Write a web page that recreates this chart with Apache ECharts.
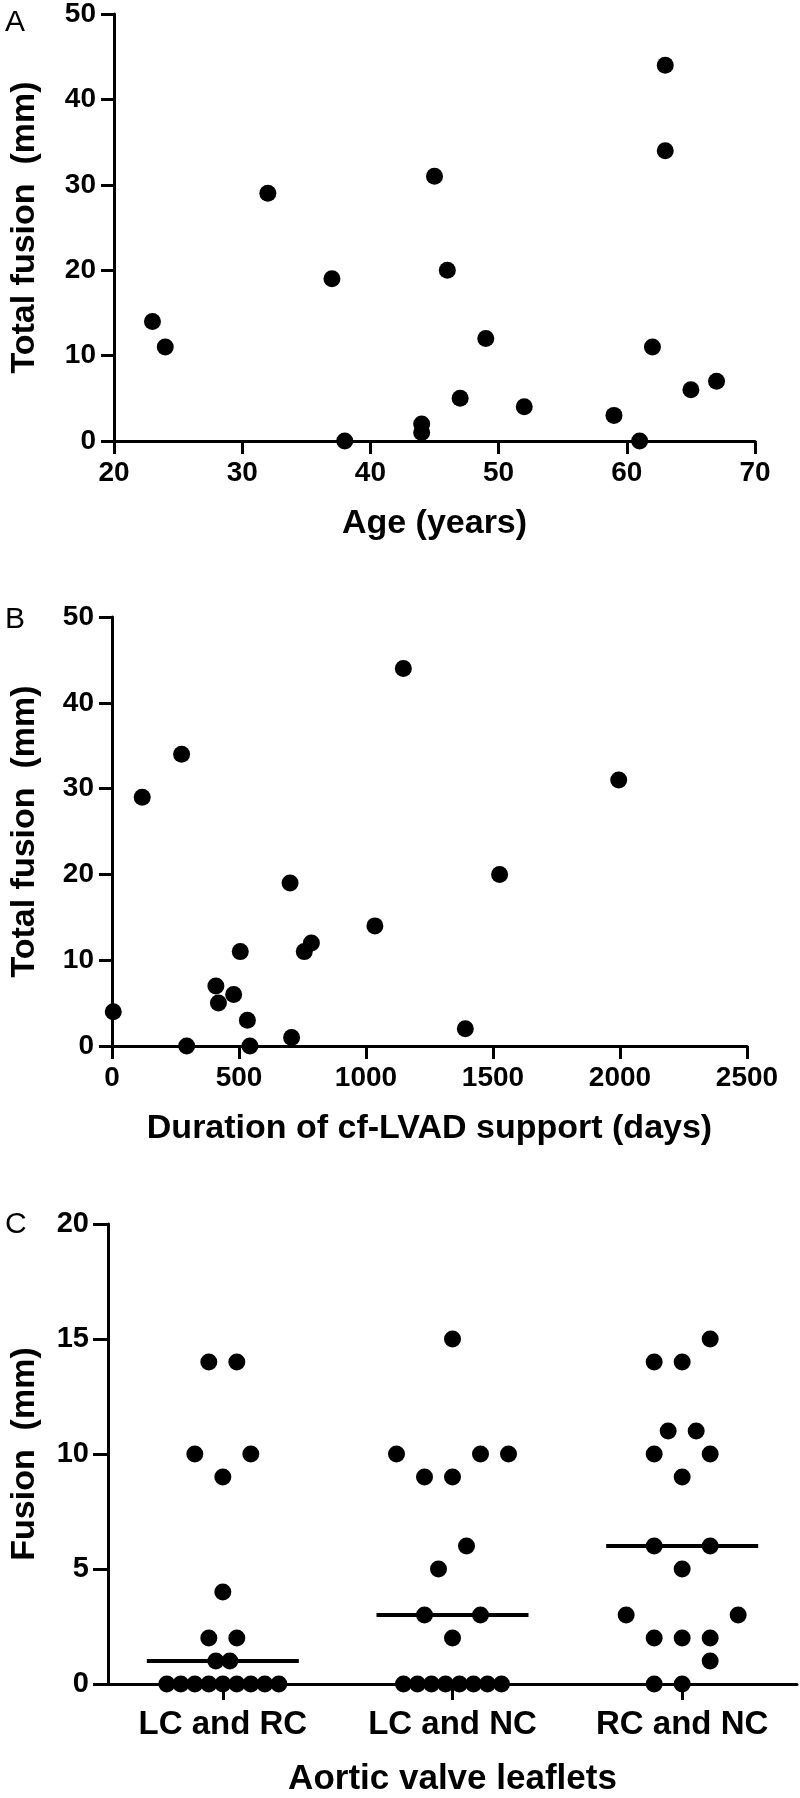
<!DOCTYPE html>
<html><head><meta charset="utf-8">
<script src="https://cdn.jsdelivr.net/npm/echarts@6/dist/echarts.min.js"></script>
<style>html,body{margin:0;padding:0;background:#fff}#c{width:800px;height:1798px}</style>
</head><body><div id="c"></div>
<script>
// ---- Panel A data ----
const ageYears      = [23,24,32,37,38,44,44,45,46,47,49,52,59,61,62,63,63,65,67];
const fusionByAge   = [14,11,29,19, 0, 2, 1,31,20, 5,12, 4, 3, 0,11,44,34, 6, 7];
const ageTicks      = [20,30,40,50,60,70];
const totalFusionTicks = [0,10,20,30,40,50];
// ---- Panel B data ----
const supportDays   = [5,119,274,294,409,419,479,505,533,543,701,707,757,785,1035,1147,1391,1526,1995];
const fusionByDays  = [4, 29, 34,  0,  7,  5,  6, 11,  3,  0, 19,  1, 11, 12,  14,  44,   2,  20,  31];
const dayTicks      = [0,500,1000,1500,2000,2500];
// ---- Panel C data ----
const leafletCategories = ['LC and RC','LC and NC','RC and NC'];
const fusionLCRC = [14,14,10,10,9,4,2,2,1,1,0,0,0,0,0,0,0,0,0];
const fusionLCNC = [15,10,10,10,9,9,6,5,3,3,2,0,0,0,0,0,0,0,0];
const fusionRCNC = [15,14,14,11,11,10,10,9,6,6,5,3,3,2,2,2,1,0,0];
const fusionTicks = [0,5,10,15,20];

const FONT = '"Liberation Sans", Arial, Helvetica, sans-serif';
const STEP = 14;   // px between overlapping beads
const DOT = 17;

// Simple scatter-dot-plot layout: values within 1 unit share a bin and are
// spread centre-out; large bins keep each identical-value row as a bead string.
function swarm(values, cat) {
  const sorted = values.slice().sort((a, b) => a - b);
  const rows = [];
  sorted.forEach(v => {
    const last = rows[rows.length - 1];
    if (last && last.v === v) last.n++; else rows.push({ v, n: 1 });
  });
  const bins = [];
  rows.forEach(r => {
    const b = bins[bins.length - 1];
    if (b && r.v - b.start <= 1) b.rows.push(r); else bins.push({ start: r.v, rows: [r] });
  });
  const out = [];
  bins.forEach(b => {
    const n = b.rows.reduce((s, r) => s + r.n, 0);
    if (n >= 6) {
      b.rows.forEach(r => {
        for (let i = 0; i < r.n; i++) out.push({ value: [cat, r.v], symbolOffset: [(i - (r.n - 1) / 2) * STEP, 0] });
      });
    } else {
      const s = 2 * STEP;
      let k = 0;
      b.rows.forEach(r => {
        for (let i = 0; i < r.n; i++, k++) {
          let off;
          if (n % 2) off = k === 0 ? 0 : (k % 2 ? -1 : 1) * Math.ceil(k / 2) * s;
          else off = (k % 2 === 0 ? -1 : 1) * (Math.floor(k / 2) + 0.5) * s;
          out.push({ value: [cat, r.v], symbolOffset: [off, 0] });
        }
      });
    }
  });
  return out;
}
function median(arr) {
  const s = arr.slice().sort((a, b) => a - b);
  const m = Math.floor(s.length / 2);
  return s.length % 2 ? s[m] : (s[m - 1] + s[m]) / 2;
}
function zip(a, b) { return a.map((v, i) => [v, b[i]]); }

const lineSt = { color: '#000', width: 3 };
function valueAxis(gridIndex, ticks, extra) {
  return Object.assign({
    type: 'value', gridIndex,
    min: ticks[0], max: ticks[ticks.length - 1], interval: ticks[1] - ticks[0],
    axisLine: { show: true, onZero: false, lineStyle: lineSt },
    axisTick: { show: true, inside: false, length: 13, lineStyle: lineSt },
    axisLabel: { color: '#000', fontFamily: FONT, fontWeight: 'bold', fontSize: 28, margin: 18,
                 showMinLabel: true, showMaxLabel: true, formatter: v => String(v) },
    splitLine: { show: false },
    nameLocation: 'middle',
    nameTextStyle: { color: '#000', fontFamily: FONT, fontWeight: 'bold', fontSize: 34 }
  }, extra);
}

const groups = [fusionLCRC, fusionLCNC, fusionRCNC];
const swarmData = [].concat(...groups.map((g, i) => swarm(g, i)));
const medianData = groups.map((g, i) => [i, median(g)]);
const dotStyle = { color: '#000', opacity: 1 };

const chart = echarts.init(document.getElementById('c'), null, { renderer: 'canvas' });
chart.setOption({
  animation: false,
  backgroundColor: '#fff',
  grid: [
    { left: 112, top: 13, width: 643, height: 428 },
    { left: 106, top: 617, width: 641, height: 429 },
    { left: 100, top: 1224, width: 697, height: 466 }
  ],
  xAxis: [
    valueAxis(0, ageTicks, { name: 'Age (years)', nameGap: 66 }),
    valueAxis(1, dayTicks, { name: 'Duration of cf-LVAD support (days)', nameGap: 66 }),
    {
      type: 'category', gridIndex: 2, data: leafletCategories, boundaryGap: true,
      axisLine: { show: true, onZero: false, lineStyle: lineSt },
      axisTick: { show: true, alignWithLabel: true, length: 16, lineStyle: lineSt },
      axisLabel: { color: '#000', fontFamily: FONT, fontWeight: 'bold', fontSize: 33, margin: 24 },
      splitLine: { show: false },
      name: 'Aortic valve leaflets', nameLocation: 'middle', nameGap: 78,
      nameTextStyle: { color: '#000', fontFamily: FONT, fontWeight: 'bold', fontSize: 35 }
    }
  ],
  yAxis: [
    valueAxis(0, totalFusionTicks, { name: 'Total fusion  (mm)', nameRotate: 90, nameGap: 72 }),
    valueAxis(1, totalFusionTicks, { name: 'Total fusion  (mm)', nameRotate: 90, nameGap: 70 }),
    valueAxis(2, fusionTicks, { name: 'Fusion  (mm)', nameRotate: 90, nameGap: 66,
      axisTick: { show: true, length: 15, lineStyle: lineSt },
      axisLabel: { color: '#000', fontFamily: FONT, fontWeight: 'bold', fontSize: 29, margin: 19,
                   showMinLabel: true, showMaxLabel: true, formatter: v => String(v) } })
  ],
  graphic: [
    { type: 'text', left: 5, top: 8, style: { text: 'A', font: '30px ' + FONT, fill: '#000' } },
    { type: 'text', left: 5, top: 605, style: { text: 'B', font: '30px ' + FONT, fill: '#000' } },
    { type: 'text', left: 5, top: 1210, style: { text: 'C', font: '30px ' + FONT, fill: '#000' } }
  ],
  series: [
    { type: 'scatter', xAxisIndex: 0, yAxisIndex: 0, symbolSize: DOT, itemStyle: dotStyle, data: zip(ageYears, fusionByAge), z: 5 },
    { type: 'scatter', xAxisIndex: 1, yAxisIndex: 1, symbolSize: DOT, itemStyle: dotStyle, data: zip(supportDays, fusionByDays), z: 5 },
    { type: 'scatter', xAxisIndex: 2, yAxisIndex: 2, symbolSize: DOT, itemStyle: dotStyle, data: swarmData, z: 5 },
    { type: 'scatter', xAxisIndex: 2, yAxisIndex: 2, symbol: 'rect', symbolSize: [152, 4], itemStyle: dotStyle, data: medianData, z: 4 }
  ]
});
</script>
</body></html>
